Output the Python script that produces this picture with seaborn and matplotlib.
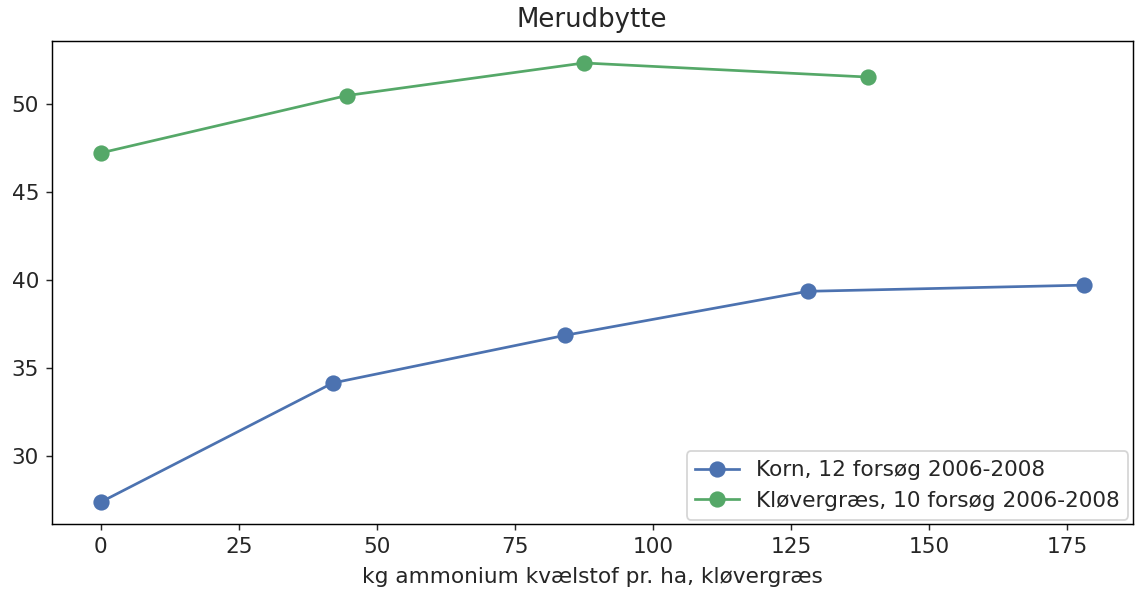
import pandas as pd
import matplotlib
matplotlib.use("Agg")
import matplotlib.pyplot as plt
import seaborn as sns

# values
korn_x = [0, 42, 84, 128, 178]
korn_y = [27.4, 34.15, 36.85, 39.35, 39.7]
klover_x = [0, 44.5, 87.5, 139]
klover_y = [47.2, 50.45, 52.3, 51.5]

korn_label = "Korn, 12 forsøg 2006-2008"
klover_label = "Kløvergræs, 10 forsøg 2006-2008"

korn = pd.DataFrame({"x": korn_x, "y": korn_y})
klover = pd.DataFrame({"x": klover_x, "y": klover_y})

plt.rcParams["font.size"] = 12
plt.rcParams["text.color"] = "#262626"
plt.rcParams["xtick.color"] = "#262626"
plt.rcParams["ytick.color"] = "#262626"
plt.rcParams["axes.labelcolor"] = "#262626"

fig, ax = plt.subplots(figsize=(1135 / 130, 591 / 130), dpi=130)
fig.subplots_adjust(left=0.0456, right=0.998, top=0.9306, bottom=0.1134)

sns.lineplot(x="x", y="y", data=korn, marker="o", markersize=9, markeredgewidth=0,
             color="#4C72B0", linewidth=1.5, label=korn_label, ax=ax)
sns.lineplot(x="x", y="y", data=klover, marker="o", markersize=9, markeredgewidth=0,
             color="#55A868", linewidth=1.5, label=klover_label, ax=ax)

ax.set_title("Merudbytte", fontsize=14.4, pad=7.5)
ax.set_xlabel("kg ammonium kvælstof pr. ha, kløvergræs", labelpad=5.5)
ax.set_ylabel("")
ax.legend(loc="lower right", borderaxespad=0.2)

fig.savefig("out.png", dpi=130)
